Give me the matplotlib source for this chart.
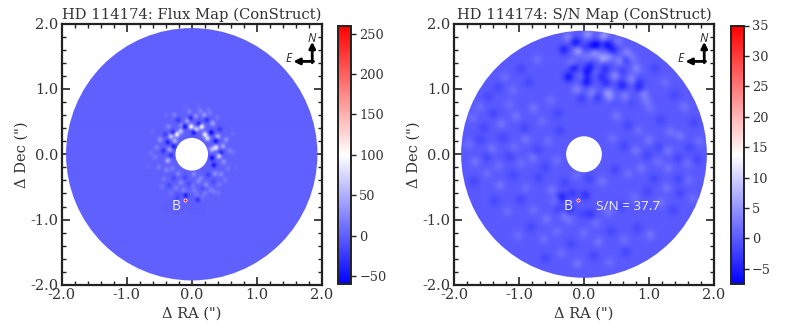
import matplotlib
matplotlib.use('Agg')
import matplotlib.pyplot as plt
from matplotlib.patches import Circle
import numpy as np

plt.rcParams['font.family'] = 'DejaVu Serif'

# Speckles: x, y in arcsec, value in flux units
flux_x = [-0.12, 0.02, 0.10, 0.29, 0.36, -0.30, -0.38, -0.29, 0.44, 0.30, 0.33, -0.03, 0.22, -0.22, 0.42, -0.45, -0.42, -0.33,
          -0.02, 0.14, 0.06, -0.24, -0.18, 0.19, 0.23, 0.36, 0.41, 0.30, -0.33, -0.27, -0.35, -0.38, 0.47, 0.39,
          -0.08, 0.05, 0.18, -0.17, 0.31, -0.37, -0.50, 0.52, 0.48, -0.55, 0.12, -0.05, 0.27, -0.28, 0.57, -0.58,
          -0.22, -0.11, 0.02, 0.13, 0.24, 0.35, -0.31, -0.40, -0.18, -0.05, 0.09, 0.21, 0.32, 0.44, -0.29, -0.44, -0.52, 0.55,
          -0.14, 0.03, 0.16, 0.28, 0.41, -0.25, -0.36, -0.09, 0.07, 0.19, 0.33, -0.21, -0.47, 0.50, 0.63, -0.64, 0.00, 0.15, -0.33,
          -0.10, 0.08, -0.24, 0.24, 0.38, 0.62, -0.62, -0.10, 0.40, -0.40, 0.09, 0.68, -0.68]
flux_y = [0.42, 0.33, 0.46, 0.33, 0.20, 0.33, 0.18, 0.12, 0.02, -0.06, -0.17, 0.55, 0.52, 0.52, 0.38, 0.05, 0.30, -0.02,
          0.42, 0.42, 0.38, 0.30, 0.35, 0.30, 0.24, 0.10, -0.03, 0.07, 0.27, 0.20, 0.07, -0.10, 0.12, 0.27,
          0.51, 0.58, 0.60, 0.44, 0.47, 0.42, 0.22, 0.22, -0.12, 0.10, 0.66, 0.65, 0.63, 0.60, 0.05, -0.05,
          -0.30, -0.36, -0.31, -0.37, -0.32, -0.30, -0.22, -0.24, -0.44, -0.46, -0.42, -0.47, -0.42, -0.31, -0.37, -0.38, -0.20, -0.22,
          -0.55, -0.56, -0.53, -0.55, -0.47, -0.52, -0.48, -0.61, -0.63, -0.60, -0.58, -0.63, -0.50, -0.40, 0.02, 0.02, -0.48, -0.67, -0.60,
          -0.63, -0.70, -0.68, 0.69, 0.56, 0.30, 0.34, 0.72, -0.60, 0.60, 0.74, -0.20, -0.18]
flux_v = [-50, -50, -45, -55, -50, -40, -40, -45, -40, -50, -45, -35, -30, -25, -25, -30, -20, -30,
          95, 100, 70, 95, 60, 85, 75, 85, 75, 55, 65, 50, 40, 50, 40, 50,
          40, 30, 35, 30, 40, 25, 30, 30, 30, 20, 20, 20, 15, 20, 20, 15,
          22, -15, 25, 20, -22, 28, 18, 22, 24, -15, 22, 28, -12, 24, -18, 15, 18, 15,
          20, 18, -12, 18, 14, 18, -15, 18, 14, 18, 14, -8, 12, 14, 10, 12, 14, 10, 12,
          -55, -30, -15, 10, 12, 10, 8, 6, 12, 8, 6, 6, 6]

# Speckles: the busy patch north of the star first, then the rest of the disc
snr_x = [-0.25, -0.13, 0.06, 0.11, 0.31, 0.36, 0.53, 0.66, -0.31, -0.09, -0.01, 0.17, 0.19, 0.39, 0.44, 0.63, 0.75, -0.18, -0.16, 0.05,
         0.09, 0.29, 0.33, 0.56, 0.58, 0.81, -0.24, -0.02, 0.03, 0.22, 0.26, 0.49, 0.51, 0.73, 0.86, -0.11, 0.04, 0.12, 0.34, 0.37,
         0.59, 0.62, 0.85, 0.92, -0.04, 0.13, 0.19, 0.41, 0.43, 0.67, 0.70, 0.97,
         -1.72, -1.55, -1.62, -1.40, -1.28, -1.48, -1.15, -1.33, -1.05, -1.22, -0.92, -1.10, -0.78, -0.98, -0.65, -0.85, -0.52, -0.72, -0.40,
         -1.78, -1.60, -1.42, -1.25, -1.08, -0.90, -0.72, -0.55, -0.38, -1.68, -1.50, -1.32, -1.15, -0.97, -0.79, -0.60, -0.42,
         1.10, 1.25, 1.40, 1.55, 1.70, 1.02, 1.18, 1.33, 1.48, 1.63, 1.78, 0.50, 0.68, 0.85, 1.00, 1.15, 1.30, 1.45, 1.60, 1.75,
         0.44, 0.62, 0.80, 0.98, 1.14, 1.30, 1.46, 1.62, -1.70, -1.50, -1.30, -1.10, -0.90, -0.70, -0.50, -0.30, -0.12, 0.08, 0.28, 0.48,
         0.68, 0.88, 1.08, 1.28, 1.48, 1.68, -1.38, -1.18, -0.98, -0.78, -0.58, -0.40, -0.22, -0.03, 0.18, 0.38, 0.58, 0.78, 0.98, 1.18,
         1.38, -1.02, -0.82, -0.62, -0.42, -0.20, 0.00, 0.22, 0.42, 0.62, 0.82, 1.02, -0.60, -0.35, -0.10, 0.15, 0.40, 0.65,
         -0.45, -0.30, -0.22, 0.02, -0.18, 0.10, -0.34]
snr_y = [1.79, 1.71, 1.84, 1.66, 1.81, 1.68, 1.73, 1.55, 1.60, 1.58, 1.63, 1.55, 1.67, 1.49, 1.60, 1.44, 1.47, 1.38, 1.33, 1.49, 1.34,
         1.47, 1.31, 1.43, 1.26, 1.31, 1.18, 1.21, 1.24, 1.23, 1.20, 1.19, 1.16, 1.15, 1.10, 0.99, 1.11, 0.96, 1.09, 0.94, 1.05, 0.90,
         1.01, 0.92, 0.85, 0.89, 0.87, 0.85, 0.82, 0.83, 0.80, 0.81,
         0.55, 0.40, 0.72, 0.62, 0.46, 0.88, 0.76, 1.02, 0.58, 1.18, 0.40, 0.98, 0.70, 1.30, 0.50, 1.10, 0.82, 1.45, 0.62,
         0.15, 0.22, 0.08, 0.25, 0.10, 0.22, 0.06, 0.20, 0.36, -0.12, -0.05, -0.18, -0.04, -0.14, -0.06, -0.20, -0.10,
         1.32, 1.10, 0.90, 0.72, 0.48, 0.70, 0.52, 0.34, 0.28, 0.10, 0.20, 0.58, 0.44, 0.36, 0.22, 0.10, 0.05, -0.06, -0.15, -0.08,
         0.24, 0.12, 0.05, -0.02, -0.12, -0.22, -0.38, -0.40, -0.42, -0.30, -0.48, -0.32, -0.52, -0.36, -0.55, -0.44, -0.32, -0.38, -0.42, -0.24,
         -0.30, -0.22, -0.38, -0.52, -0.60, -0.68, -0.72, -0.88, -0.70, -0.86, -1.00, -0.84, -1.02, -0.92, -1.06, -0.88, -0.80, -0.66, -0.58, -0.74,
         -0.86, -1.25, -1.12, -1.30, -1.18, -1.38, -1.22, -1.35, -1.18, -1.32, -1.14, -1.24, -1.60, -1.52, -1.68, -1.56, -1.66, -1.50,
         -0.72, -0.95, -0.85, -0.63, -0.60, -0.92, -0.66]
snr_v = [3, -5, 4, -3, 5, -5, 2, 3, -4, 5, -2, 4, -6, 3, -4, -3, 2, 4, -6, 2, -4, 5, -3, 4, -2, 3, -5, 3, -6, 2, -4, 5, -2, 3, -2, 3, -5, 2, -3, 4, -4, 2, -3, 3, -2, 2, -3, 4, -2, 2, -2, 2,
         1.5, -1.5, 1.5, -1.5, 2, -1.5, 1.5, -1.5, 2, 1.5, -1.5, 1.5, 2, -1.5, 1.5, -1.5, 1.5, 1.5, -1.5, 1.5, -1.5, 2, -1.5, 1.5, 2, -1.5, 1.5, -1.5, 2, -1.5, 1.5, -1.5, 1.5, 2, -1.5, 1.5,
         -1.5, 1.5, -1.5, 2, -1.5, 1.5, -1.5, 2, 2, -1.5, 1.5, 2, -1.5, 1.5, 2, -1.5, 2, -1.5, 1.5, -1.5, 1.5, -1.5, 2, -1.5, 1.5, 2, -1.5, 1.5, -1.5, 1.5, 2, -1.5, 1.5, -1.5, 2, -1.5, 1.5, -1.5, 2, -1.5, 1.5, 2,
         -1.5, 2, -1.5, 1.5, -1.5, 1.5, -1.5, 1.5, 2, -1.5, 1.5, -1.5, 1.5, 2, -1.5, 1.5, -1.5, 2, -1.5, 1.5, -1.5, 1.5, 1.5, -1.5, 1.5, 2, -1.5, 1.5, -1.5, 2, -1.5, 1.5, 2, -1.5, 1.5, -1.5, 1.5, 2,
         -3, -3, -2.5, -2.5, -4, -2.5, 2]

titles = ['HD 114174: Flux Map (ConStruct)', 'HD 114174: S/N Map (ConStruct)']
vmins = [-60, -7.5]
vmaxs = [260, 35]
cbar_ticks = [[-50, 0, 50, 100, 150, 200, 250],
              [-5, 0, 5, 10, 15, 20, 25, 30, 35]]
outer_radii = [1.93, 1.89]
inner_radii = [0.25, 0.275]
planet_x = -0.10
planet_y = -0.70
planet_peaks = [250, 33]
pos_ticks = [-2.0, -1.0, 0.0, 1.0, 2.0]
pos_labels = ['-2.0', '-1.0', '0.0', '1.0', '2.0']

W, H = 789, 334
fig = plt.figure(figsize=(W / 100, H / 100), dpi=100)


def px_axes(left, top, right, bottom):
    return fig.add_axes([left / W, 1 - bottom / H, (right - left) / W, (bottom - top) / H])


ax_boxes = [(61.5, 23.5, 322, 285), (454, 23.5, 714, 285)]
cax_boxes = [(338, 25.5, 351, 284), (730.5, 25.5, 743.5, 284)]
speck_x = [flux_x, snr_x]
speck_y = [flux_y, snr_y]
speck_v = [flux_v, snr_v]
speck_width = [0.028, 0.055]  # speckle size on the sky, arcsec

xx, yy = np.meshgrid(np.linspace(-2, 2, 261), np.linspace(-2, 2, 261))

for i in range(2):
    ax = px_axes(*ax_boxes[i])

    # spread each speckle over a few pixels so the map looks like the blurred original
    image = np.zeros_like(xx)
    for x0, y0, v0 in zip(speck_x[i], speck_y[i], speck_v[i]):
        image += v0 * np.exp(-((xx - x0) ** 2 + (yy - y0) ** 2) / (2 * speck_width[i] ** 2))

    im = ax.imshow(image, extent=(-2, 2, -2, 2), origin='lower', cmap='bwr', vmin=vmins[i], vmax=vmaxs[i],
                   interpolation='bilinear', zorder=2, aspect='auto')
    disc = Circle((0, 0), outer_radii[i], fc='none', ec='none', transform=ax.transData)
    ax.add_patch(disc)
    im.set_clip_path(disc)
    ax.add_patch(Circle((0, 0), inner_radii[i], fc='white', ec='none', zorder=3))

    # companion
    ax.scatter([planet_x], [planet_y], c=[planet_peaks[i]], cmap='bwr', vmin=vmins[i], vmax=vmaxs[i],
               s=5, edgecolors='#ffd8d8', linewidths=0.6, zorder=4)
    ax.text(planet_x - 0.14, -0.80, 'B', color='#f2f2ff', fontsize=10, family='Open Sans',
            ha='center', va='center', zorder=5)
    if i == 1:
        ax.text(0.68, -0.80, 'S/N = 37.7', color='#f2f2ff', fontsize=9.7, family='Open Sans',
                ha='center', va='center', zorder=5)

    ax.set_xlim(-2, 2)
    ax.set_ylim(-2, 2)
    ax.set_xticks(pos_ticks, pos_labels)
    ax.set_yticks(pos_ticks, pos_labels)
    ax.set_xticks(np.arange(-2, 2.01, 0.2), minor=True)
    ax.set_yticks(np.arange(-2, 2.01, 0.2), minor=True)
    ax.tick_params(which='major', direction='in', top=True, right=True, length=6, width=1.2,
                   labelsize=10.5, color='#222222', labelcolor='#333333', pad=2.5)
    ax.tick_params(which='minor', direction='in', top=True, right=True, length=3, width=1, color='#222222')
    for s in ax.spines.values():
        s.set_linewidth(1.6)
        s.set_color('#222222')
    ax.set_title(titles[i], fontsize=10.6, color='#333333', pad=3.5)
    ax.set_xlabel('\u0394 RA (")', fontsize=10.5, color='#333333', labelpad=3)
    ax.set_ylabel('\u0394 Dec (")', fontsize=10.5, color='#333333', labelpad=1)

    # compass
    ax.annotate('', xy=(1.85, 1.72), xytext=(1.85, 1.40),
                arrowprops=dict(arrowstyle='-|>', color='black', lw=2, shrinkA=0, shrinkB=0, mutation_scale=9))
    ax.annotate('', xy=(1.56, 1.42), xytext=(1.87, 1.42),
                arrowprops=dict(arrowstyle='-|>', color='black', lw=2, shrinkA=0, shrinkB=0, mutation_scale=9))
    ax.text(1.84, 1.77, 'N', style='italic', family='Open Sans', fontsize=8.5, ha='center', va='center', color='#222222')
    ax.text(1.48, 1.46, 'E', style='italic', family='Open Sans', fontsize=8.5, ha='center', va='center', color='#222222')

    cax = px_axes(*cax_boxes[i])
    cb = fig.colorbar(im, cax=cax, ticks=cbar_ticks[i])
    cb.ax.tick_params(labelsize=9.3, length=3.5, width=1, color='#222222', labelcolor='#333333', pad=2.5)
    cb.outline.set_linewidth(1.4)
    cb.outline.set_edgecolor('#222222')

plt.savefig('out.png', dpi=100)
